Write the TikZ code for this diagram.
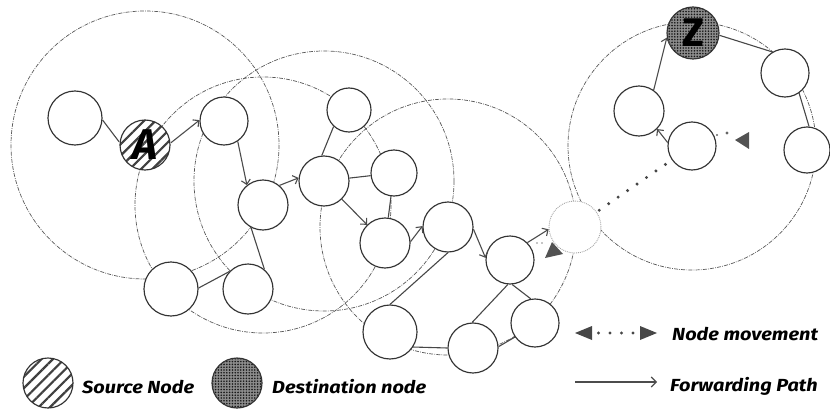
\documentclass[tikz,border=0pt]{standalone}
\usepackage{fontspec}
\setmainfont{Carlito}
\newfontfamily\lgfont[FakeStretch=1.14]{Fira Sans}
\newfontfamily\lbfont{Fira Sans}
\usetikzlibrary{arrows.meta,patterns,patterns.meta}
\pgfdeclarelayer{bg}
\pgfsetlayers{bg,main}
\begin{document}
\begin{tikzpicture}[x=1pt,y=-1pt,
  nd/.style={circle,draw=black!80,line width=1.15pt,fill=white,inner sep=0pt,minimum size=#1pt},
  nd/.default=50,
  srcfill/.style={preaction={fill=white},pattern={Lines[angle=45,distance=8pt,line width=2.2pt]},pattern color=black!75},
  dstfill/.style={preaction={fill=black!45},pattern={Dots[distance=2.8pt,radius=0.9pt]},pattern color=black!90},
  movenode/.style={circle,draw=black!35,densely dotted,line width=0.9pt,fill=white,inner sep=0pt,minimum size=52pt},
  lnk/.style={draw=black!72,line width=1.1pt},
  fwd/.style={draw=black!70,line width=1.1pt,-{Straight Barb[length=4.5pt,width=9pt]}},
  rng/.style={draw=black!65,line width=0.7pt,dash pattern=on 4pt off 1.2pt on 0.8pt off 1.2pt},
  mvd/.style={draw=black!72,line width=3.4pt,line cap=round,dash pattern=on 0pt off 11.5pt,dash phase=8.5pt},
  mvfill/.style={fill=black!68},
  lbl/.style={anchor=base west,inner sep=0pt,font=\lgfont\fontsize{17.5}{20}\selectfont\bfseries\itshape},
  bigA/.style={font=\lbfont\fontsize{43}{43}\selectfont\bfseries\itshape},
  bigZ/.style={font=\lbfont\fontsize{40}{40}\selectfont\bfseries}
]
\useasboundingbox (0,0) rectangle (830,412);

% nodes
\node[nd=54] (n1) at (75,118) {};
\node[nd=50,srcfill,bigA] (A) at (145,145) {A};
\node[nd=48] (n2) at (224,121) {};
\node[nd=50] (n3) at (263,205) {};
\node[nd=54] (n4) at (171,289) {};
\node[nd=50] (n5) at (248,289) {};
\node[nd=50] (n6) at (324,181) {};
\node[nd=44] (n7) at (349,110) {};
\node[nd=46] (n8) at (394,173) {};
\node[nd=50] (n9) at (385,243) {};
\node[nd=50] (n10) at (448,227) {};
\node[nd=48] (n11) at (510,260) {};
\node[movenode] (n12) at (575,227) {};
\node[nd=54] (n13) at (390,332) {};
\node[nd=50] (n14) at (473,348) {};
\node[nd=48] (n15) at (535,323) {};
\node[nd=52,dstfill,bigZ] (Z) at (693,33) {Z};
\node[nd=48] (n16) at (785,73) {};
\node[nd=46] (n17) at (807,150) {};
\node[nd=50] (n18) at (639,111) {};
\node[nd=48] (n19) at (692,146) {};

% transmission ranges
\begin{pgfonlayer}{bg}
\foreach \c/\r in {A/134,n3/128,n6/130,n10/128,n19/124}
  \draw[rng] (\c.center) circle[radius=\r];
\end{pgfonlayer}

% links
\draw[lnk] (n1.-4) -- (A.173);
\draw[fwd] (A.5) -- (n2.178);
\draw[fwd] (n2.-56) -- (n3.129);
\draw[fwd] (n3.50) -- (n6.173);
\draw[lnk] (n6.95) -- (n7.-133);
\draw[lnk] (n6) -- (n8);
\draw[fwd] (n6) -- (n9);
\draw[lnk] (n8) -- (n9);
\draw[fwd] (n9.3) -- (n10.178);
\draw[fwd] (n10.-5) -- (n11.175);
\draw[fwd] (n11.45) -- (n12.185);
\draw[lnk] (n3.-118) -- (n5.50);
\draw[lnk] (n4.2) -- (n5.137);
\draw[lnk] (n10.-90) -- (n13.90);
\draw[lnk] (n11.-95) -- (n14.92);
\draw[lnk] (n11.-85) -- (n15.100);
\draw[lnk] (n13.-33) -- (n14.180);
\draw[lnk] (n14.3) -- (n15.-145);
\draw[fwd] (n19.172) -- (n18.-45);
\draw[fwd] (n18.55) -- (Z.190);
\draw[lnk] (Z.-5) -- (n16.121);
\draw[lnk] (n16.-55) -- (n17.85);

% node movement
\draw[mvd] (n12) -- (n19);
\fill[mvfill] (545,258) -- (552,242) -- (563,254) -- cycle;
\fill[black!45] (537,243) circle[radius=0.9] (542,243) circle[radius=0.9];
\fill[mvfill] (735,140) -- (749,132) -- (749,149) -- cycle;
\fill[black!60] (717,135) circle[radius=1.1] (727,133) circle[radius=1.6];

% legend
\node[nd=50,srcfill] (lgS) at (48,383) {};
\node[lbl] (tS) at (82,393) {Source Node};
\node[nd=50,dstfill] (lgD) at (237,383) {};
\node[lbl] (tD) at (272,393) {Destination node};
\coordinate (mvA) at (575,333);
\coordinate (mvB) at (657,333);
\draw[mvd,dash phase=5pt,{Triangle[length=17pt,width=14pt,line width=0pt]}-{Triangle[length=17pt,width=14pt,line width=0pt]}] (mvA) -- (mvB);
\node[lbl] (tM) at (672,340) {Node movement};
\coordinate (fpA) at (575,382);
\coordinate (fpB) at (657,382);
\draw[fwd,-{Straight Barb[length=5pt,width=10pt]}] (fpA) -- (fpB);
\node[lbl] (tF) at (670,391) {Forwarding Path};
\end{tikzpicture}
\end{document}
